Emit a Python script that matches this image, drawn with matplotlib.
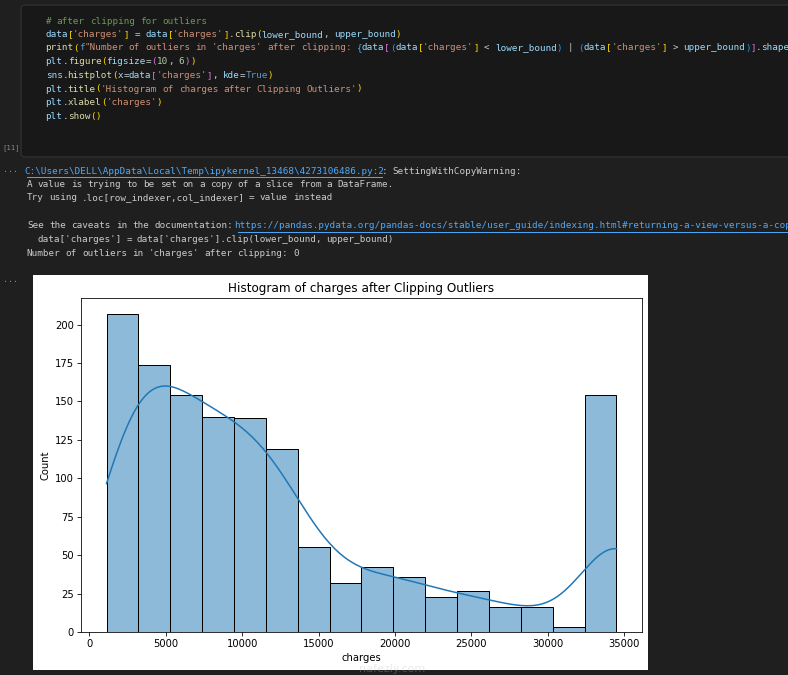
import re
import numpy as np
import matplotlib
matplotlib.use("Agg")
import matplotlib.pyplot as plt
from matplotlib.patches import FancyBboxPatch, Rectangle
import seaborn as sns

W, H = 788, 675

# histogram of clipped charges
bin_counts = [207, 174, 154, 140, 139, 119, 55, 32, 42, 36, 23, 27, 16, 16, 3, 154]
charges_min = 1121.87
charges_max = 34489.35
n_bins = 16

code_lines = [
    "# after clipping for outliers",
    "data['charges'] = data['charges'].clip(lower_bound, upper_bound)",
    None,  # the f-string line, built by hand below
    "plt.figure(figsize=(10, 6))",
    "sns.histplot(x=data['charges'], kde=True)",
    "plt.title('Histogram of charges after Clipping Outliers')",
    "plt.xlabel('charges')",
    "plt.show()",
]
fstring_text = "\"Number of outliers in 'charges' after clipping: "
fstring_expr = "data[(data['charges'] < lower_bound) | (data['charges'] > upper_bound)].shape[0]"

out_link1 = "C:\\Users\\DELL\\AppData\\Local\\Temp\\ipykernel_13468\\4273106486.py:2"
out_link2 = "https://pandas.pydata.org/pandas-docs/stable/user_guide/indexing.html#returning-a-view-versus-a-copy"

BG = "#1f1f1f"
CELL_BG = "#181818"
PLAIN = "#cccccc"
VAR = "#9cdcfe"
FN = "#dcdcaa"
STR = "#ce9178"
KW = "#569cd6"
NUM = "#b5cea8"
CMT = "#6a9955"
BRACKETS = ["#ffd700", "#da70d6", "#179fff"]
LINK = "#4daafc"

MONO = "DejaVu Sans Mono"
CW = 5.55  # px per character
MONO_SIZE = CW / 0.602 * 72 / 100


def tokenize(code, depth=0):
    toks = []
    parts = re.findall(r"#.*|'[^']*'|\d+|[A-Za-z_]\w*|[()\[\]{}]|\s+|.", code)
    for i, p in enumerate(parts):
        nxt = parts[i + 1] if i + 1 < len(parts) else ""
        if p.startswith("#"):
            c = CMT
        elif p.startswith("'"):
            c = STR
        elif p.isdigit():
            c = NUM
        elif p in ("True", "False", "None"):
            c = KW
        elif re.match(r"[A-Za-z_]", p):
            c = FN if nxt == "(" else VAR
        elif p in "([{":
            c = BRACKETS[depth % 3]
            depth += 1
        elif p in ")]}":
            depth -= 1
            c = BRACKETS[depth % 3]
        else:
            c = PLAIN
        toks.append((p, c))
    return toks, depth


def draw_tokens(ax, toks, x0, y):
    # every word is centred on its own run of monospace cells
    col = 0
    for t, c in toks:
        for chunk in re.findall(r"\S+|\s+", t):
            if chunk.strip():
                xc = x0 + (col + len(chunk) / 2) * CW
                ax.text(xc, y, chunk, color=c, fontfamily=MONO,
                        fontsize=MONO_SIZE, va="center", ha="center")
            col += len(chunk)


fig = plt.figure(figsize=(W / 100, H / 100), dpi=100, facecolor=BG)
bg = fig.add_axes([0, 0, 1, 1])
bg.set_xlim(0, W)
bg.set_ylim(H, 0)
bg.axis("off")
bg.set_facecolor(BG)

# code cell
bg.add_patch(FancyBboxPatch((21, 5), W + 20, 152, boxstyle="round,pad=0,rounding_size=4",
                            facecolor=CELL_BG, edgecolor="#2f2f2f", linewidth=1))
line_y = [21, 34.5, 48, 61.7, 75.5, 89, 102.8, 116.5]
for y, line in zip(line_y, code_lines):
    if line is None:
        toks = [("print", FN), ("(", BRACKETS[0]), ("f", KW), (fstring_text, STR), ("{", KW)]
        inner, _ = tokenize(fstring_expr, 1)
        toks += inner + [("}", KW), ("\"", STR), (")", BRACKETS[0])]
    else:
        toks, _ = tokenize(line)
    draw_tokens(bg, toks, 45.7, y)

bg.text(2, 148, "[11]", color="#8a8a8a", fontfamily=MONO, fontsize=5.2, va="center")
bg.text(3, 170, "...", color="#8a8a8a", fontfamily=MONO, fontsize=6, va="center")
bg.text(3, 279, "...", color="#8a8a8a", fontfamily=MONO, fontsize=6, va="center")

# text output
ox = 27
out_rows = [
    (171, [(out_link1, LINK, True), (": SettingWithCopyWarning:", PLAIN, False)]),
    (184.5, [("A value is trying to be set on a copy of a slice from a DataFrame.", PLAIN, False)]),
    (198, [("Try using .loc[row_indexer,col_indexer] = value instead", PLAIN, False)]),
    (226, [("See the caveats in the documentation: ", PLAIN, False), (out_link2, LINK, True)]),
    (239.5, [("  data['charges'] = data['charges'].clip(lower_bound, upper_bound)", PLAIN, False)]),
    (253, [("Number of outliers in 'charges' after clipping: 0", PLAIN, False)]),
]
for y, segs in out_rows:
    draw_tokens(bg, [(txt, c) for txt, c, _ in segs], ox, y)
    col = 0
    for txt, c, underline in segs:
        x = ox + col * CW
        if underline:
            bg.plot([x, x + len(txt) * CW], [y + 5.5, y + 5.5], color=c, linewidth=0.7)
        col += len(txt)

# white image area
bg.add_patch(Rectangle((33, 275), 615, 395, facecolor="white", edgecolor="none", zorder=4))

# chart, scaled down like the embedded png
s = 0.723
plt.rcParams.update({
    "font.size": 10 * s,
    "axes.titlesize": 12 * s,
    "axes.labelsize": 10 * s,
    "xtick.labelsize": 10 * s,
    "ytick.labelsize": 10 * s,
    "axes.linewidth": 0.8 * s,
    "xtick.major.size": 3.5 * s,
    "ytick.major.size": 3.5 * s,
    "xtick.major.width": 0.8 * s,
    "ytick.major.width": 0.8 * s,
    "xtick.major.pad": 3.5 * s,
    "ytick.major.pad": 3.5 * s,
    "axes.labelpad": 4 * s,
    "axes.titlepad": 6 * s,
})

ax = fig.add_axes([81 / W, 1 - 632 / H, (642 - 81) / W, (632 - 298) / H])
ax.set_facecolor("white")
for sp in ax.spines.values():
    sp.set_linewidth(0.8 * s)
    sp.set_color("black")
ax.tick_params(labelsize=10 * s, length=3.5 * s, width=0.8 * s, pad=3.5 * s)

edges = np.linspace(charges_min, charges_max, n_bins + 1)
centers = (edges[:-1] + edges[1:]) / 2
centers[-1] = charges_max  # the last bin is the pile of clipped values
charges = np.repeat(centers, bin_counts)

sns.histplot(x=charges, bins=n_bins, binrange=(charges_min, charges_max), kde=True,
             kde_kws=dict(cut=3, clip=(charges_min, charges_max)),
             line_kws=dict(linewidth=1.5 * s),
             edgecolor="black", linewidth=1.0 * s, ax=ax)
ax.set_title("Histogram of charges after Clipping Outliers", fontsize=12 * s, pad=6 * s)
ax.set_xlabel("charges", fontsize=10 * s, labelpad=4 * s)
ax.set_ylabel("Count", fontsize=10 * s, labelpad=4 * s)

# faint site watermark under the x label
fig.text(392 / W, 1 - 668.5 / H, "nafezly.com", color="#bbbbbb", alpha=0.3,
         fontsize=8, ha="center", va="center", zorder=5)

fig.savefig("out.png", dpi=100, facecolor=BG)
